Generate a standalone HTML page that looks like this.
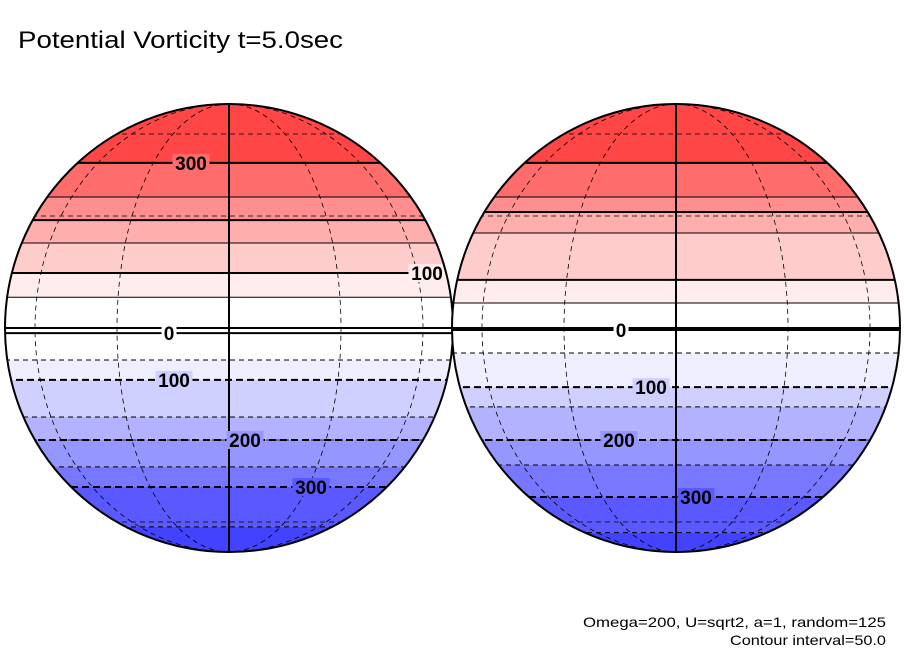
<!DOCTYPE html>
<html><head><meta charset="utf-8"><style>
html,body{margin:0;padding:0;background:#fff;}
svg{display:block;font-family:"Liberation Sans",sans-serif;}
</style></head><body>
<svg id="chart" width="904" height="654" viewBox="0 0 904 654" xmlns="http://www.w3.org/2000/svg">
<rect width="904" height="654" fill="#fff"/>
<text x="18" y="48" font-size="24" textLength="325" lengthAdjust="spacingAndGlyphs" fill="#000">Potential Vorticity t=5.0sec</text>
<text x="886" y="627" font-size="14" text-anchor="end" textLength="303" lengthAdjust="spacingAndGlyphs" fill="#000">Omega=200, U=sqrt2, a=1, random=125</text>
<text x="886" y="645" font-size="14" text-anchor="end" textLength="156" lengthAdjust="spacingAndGlyphs" fill="#000">Contour interval=50.0</text>
<g id="globes"></g>
</svg>
<script>
// contour levels (PV), top to bottom
const levels = [300, 250, 200, 150, 100, 50, 0, -50, -100, -150, -200, -250, -300, -350];
// mean latitude (deg) of each contour level, left and right hemisphere
const latLeft  = [47.5, 35.8, 28.8, 22.3, 14.2, 7.9, -1.3, -8.2, -13.4, -23.4, -30.0, -38.3, -45.2, -62.6];
const latRight = [47.5, 35.8, 31.2, 25.1, 12.4, 6.4, -0.5, -6.4, -15.3, -20.6, -30.0, -37.7, -49.0, -66.0];
// band fills: above first level, then between successive levels, then below last
const bandColors = ["#ff4646","#ff6c6c","#ff8f8f","#ffaeae","#ffcccc","#ffeded","#ffffff","#ffffff","#eeeeff","#d0d0ff","#b2b2ff","#9696ff","#7777ff","#5959ff","#4242ff"];
// labelled contours per globe: [level, x offset px from centre]
const labelsLeft  = [[300,-38],[100,198],[0,-60],[-100,-55],[-200,16],[-300,82]];
const labelsRight = [[0,-55],[-100,-25],[-200,-57],[-300,20]];
const gridLons = [-60,-30,30,60];
const gridLats = [-60,-30,30,60];

const NS = "http://www.w3.org/2000/svg";
const R = 224, CY = 328;
function yOf(lat){ return CY - R*Math.sin(lat*Math.PI/180); }
function mk(tag, attrs, parent){ const e=document.createElementNS(NS,tag); for(const k in attrs) e.setAttribute(k,attrs[k]); parent.appendChild(e); return e; }

function globe(cx, lats, labels, idx){
  const root = document.getElementById('globes');
  const g = mk('g',{},root);
  
  
  const cp = mk('clipPath',{id:'clip'+idx},g);
  mk('circle',{cx:cx,cy:CY,r:R},cp);
  const inner = mk('g',{'clip-path':'url(#clip'+idx+')'},g);
  for(let i=0;i<bandColors.length;i++){
    const top = i===0 ? CY-R-2 : yOf(lats[i-1]);
    const bot = i===levels.length ? CY+R+2 : yOf(lats[i]);
    const b = mk('rect',{x:cx-R-2,y:top,width:2*R+4,height:Math.max(0,bot-top),fill:bandColors[i]},inner);
    
    
  }
  gridLats.forEach(la=>{
    const y=yOf(la);
    const l=mk('line',{x1:cx-R,x2:cx+R,y1:y,y2:y,stroke:'#000','stroke-width':0.8,'stroke-dasharray':'5,4'},inner);
    
    
  });
  gridLons.forEach(lo=>{
    const rx=R*Math.abs(Math.sin(lo*Math.PI/180));
    const side = lo<0 ? -1 : 1;
    const d='M'+cx+','+(CY-R)+' A'+rx+','+R+' 0 0 '+(side>0?1:0)+' '+cx+','+(CY+R);
    const p=mk('path',{d:d,fill:'none',stroke:'#000','stroke-width':0.8,'stroke-dasharray':'5,4'},inner);
    
    
  });
  levels.forEach((lv,i)=>{
    const y=yOf(lats[i]);
    const thick = lv%100===0;
    const attrs={x1:cx-R,x2:cx+R,y1:y,y2:y,stroke:'#000','stroke-width':thick?2:1};
    if(lv<0) attrs['stroke-dasharray']=thick?'7,4':'5,4';
    const l=mk('line',attrs,inner);
    
    
  });
  const m=mk('line',{x1:cx,x2:cx,y1:CY-R,y2:CY+R,stroke:'#000','stroke-width':2},inner);
  
  
  const eq=mk('line',{x1:cx-R,x2:cx+R,y1:CY,y2:CY,stroke:'#000','stroke-width':2},inner);
  
  
  labels.forEach(([lv,dx])=>{
    const i=levels.indexOf(lv);
    const y=yOf(lats[i]);
    const txt=String(Math.abs(lv));
    const w=txt.length*11+4;
    const bg=mk('rect',{x:cx+dx-w/2,y:y-9,width:w,height:18,fill:bandColors[i+1]},inner);
    
    
    const t=mk('text',{x:cx+dx,y:y+7,'font-size':19,'text-anchor':'middle',fill:'#000','font-weight':'bold'},inner);
    t.textContent=txt;
    
    
  });
  const o=mk('circle',{cx:cx,cy:CY,r:R,fill:'none',stroke:'#000','stroke-width':2},g);
  
  
}
globe(229, latLeft, labelsLeft, 'left');
globe(676, latRight, labelsRight, 'right');
</script>
</body></html>
